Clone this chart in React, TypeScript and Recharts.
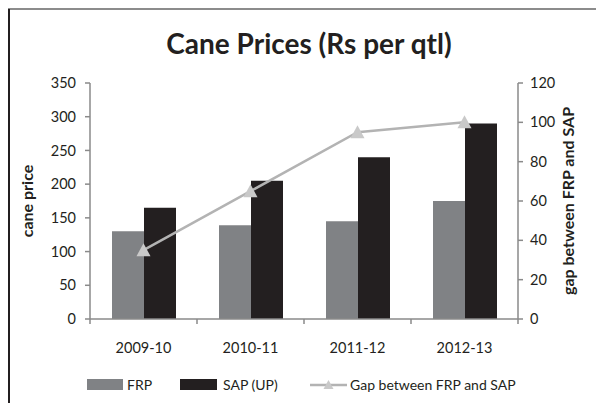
import React from "react";
import { ComposedChart, Bar, Line, XAxis, YAxis } from "recharts";

const seasons = ["2009-10", "2010-11", "2011-12", "2012-13"];
const frp = [130, 139, 145, 175];
const sap = [165, 205, 240, 290];
const gap = [35, 65, 95, 100];
const leftTicks = [0, 50, 100, 150, 200, 250, 300, 350];
const rightTicks = [0, 20, 40, 60, 80, 100, 120];

const data = seasons.map((season, i) => ({ season, frp: frp[i], sap: sap[i], gap: gap[i] }));

const FONT = "Lato, 'Open Sans', sans-serif";
const AXIS = "#8a8a8a";
const INK = "#231f20";
const FRP_FILL = "#808285";
const GAP_LINE = "#b3b3b3";

function Triangle(props: any) {
  const { cx, cy } = props;
  if (cx == null || cy == null) return null;
  return <path d={`M${cx},${cy - 7} L${cx + 7},${cy + 6} L${cx - 7},${cy + 6} Z`} fill="#c9c9c9" />;
}

function CategoryTick(props: any) {
  const { x, y, payload, index, width, visibleTicksCount } = props;
  const half = width / visibleTicksCount / 2;
  return (
    <g>
      <line x1={x - half} y1={y - 8} x2={x - half} y2={y - 3} stroke={AXIS} strokeWidth={1.5} />
      {index === visibleTicksCount - 1 && (
        <line x1={x + half} y1={y - 8} x2={x + half} y2={y - 3} stroke={AXIS} strokeWidth={1.5} />
      )}
      <text x={x} y={y + 26} textAnchor="middle" fontSize={14.5} fill={INK} fontFamily={FONT}>
        {payload.value}
      </text>
    </g>
  );
}

const legendText: React.CSSProperties = { position: "absolute", top: 0, fontSize: 14, lineHeight: "18px", color: INK, whiteSpace: "nowrap" };

export default function App() {
  return (
    <div style={{ position: "fixed", left: 0, top: 0, width: 596, height: 403, background: "#fff", fontFamily: FONT }}>
      <div style={{ position: "absolute", left: 8, top: 8, width: 588, height: 2, background: "#8c8c8c" }} />
      <div style={{ position: "absolute", left: 8, top: 9, width: 2, height: 394, background: INK }} />
      <div
        style={{
          position: "absolute",
          top: 26,
          left: 0,
          width: 618,
          textAlign: "center",
          fontSize: 28,
          fontWeight: 700,
          color: INK,
          whiteSpace: "nowrap",
        }}
      >
        Cane Prices (Rs per qtl)
      </div>
      <ComposedChart
        width={596}
        height={403}
        data={data}
        margin={{ top: 83, right: 28, left: 40, bottom: 54 }}
        barCategoryGap="20%"
        barGap={0}
        style={{ position: "absolute", left: 0, top: 0 }}
      >
        <XAxis
          dataKey="season"
          axisLine={{ stroke: AXIS, strokeWidth: 1.5 }}
          tickLine={false}
          height={30}
          tick={<CategoryTick />}
          interval={0}
        />
        <YAxis
          yAxisId="left"
          width={50}
          domain={[0, 350]}
          ticks={leftTicks}
          axisLine={{ stroke: AXIS, strokeWidth: 1.5 }}
          tickLine={{ stroke: AXIS, strokeWidth: 1.5 }}
          tickSize={5}
          tickMargin={9}
          tick={{ fontSize: 14.5, fill: INK, fontFamily: FONT }}
          label={{
            value: "cane price",
            angle: -90,
            position: "insideLeft",
            offset: -13,
            style: { fontSize: 16, fontWeight: 700, fill: INK, fontFamily: FONT, textAnchor: "middle" },
          }}
        />
        <YAxis
          yAxisId="right"
          orientation="right"
          width={50}
          domain={[0, 120]}
          ticks={rightTicks}
          axisLine={{ stroke: AXIS, strokeWidth: 1.5 }}
          tickLine={{ stroke: AXIS, strokeWidth: 1.5 }}
          tickSize={5}
          tickMargin={7}
          tick={{ fontSize: 14.5, fill: INK, fontFamily: FONT }}
          label={{
            value: "gap between FRP and SAP",
            angle: -90,
            position: "insideRight",
            offset: 0,
            style: { fontSize: 16, fontWeight: 700, fill: INK, fontFamily: FONT, textAnchor: "middle" },
          }}
        />
        <Bar yAxisId="left" dataKey="frp" name="FRP" fill={FRP_FILL} barSize={32} isAnimationActive={false} />
        <Bar yAxisId="left" dataKey="sap" name="SAP (UP)" fill={INK} barSize={32} isAnimationActive={false} />
        <Line
          yAxisId="right"
          dataKey="gap"
          name="Gap between FRP and SAP"
          stroke={GAP_LINE}
          strokeWidth={2.5}
          dot={<Triangle />}
          activeDot={false}
          isAnimationActive={false}
        />
      </ComposedChart>
      <div style={{ position: "absolute", top: 376, left: 0, width: 596, height: 18 }}>
        <span style={{ position: "absolute", left: 87, top: 3, width: 36, height: 11, background: FRP_FILL }} />
        <span style={{ ...legendText, left: 127 }}>FRP</span>
        <span style={{ position: "absolute", left: 180, top: 3, width: 37, height: 11, background: INK }} />
        <span style={{ ...legendText, left: 223 }}>SAP (UP)</span>
        <svg width={37} height={18} style={{ position: "absolute", left: 310, top: 0 }}>
          <line x1={0} y1={9} x2={37} y2={9} stroke={GAP_LINE} strokeWidth={2.5} />
          <path d="M18.5,4 L23.5,13 L13.5,13 Z" fill="#c9c9c9" />
        </svg>
        <span style={{ ...legendText, left: 350 }}>Gap between FRP and SAP</span>
      </div>
    </div>
  );
}
